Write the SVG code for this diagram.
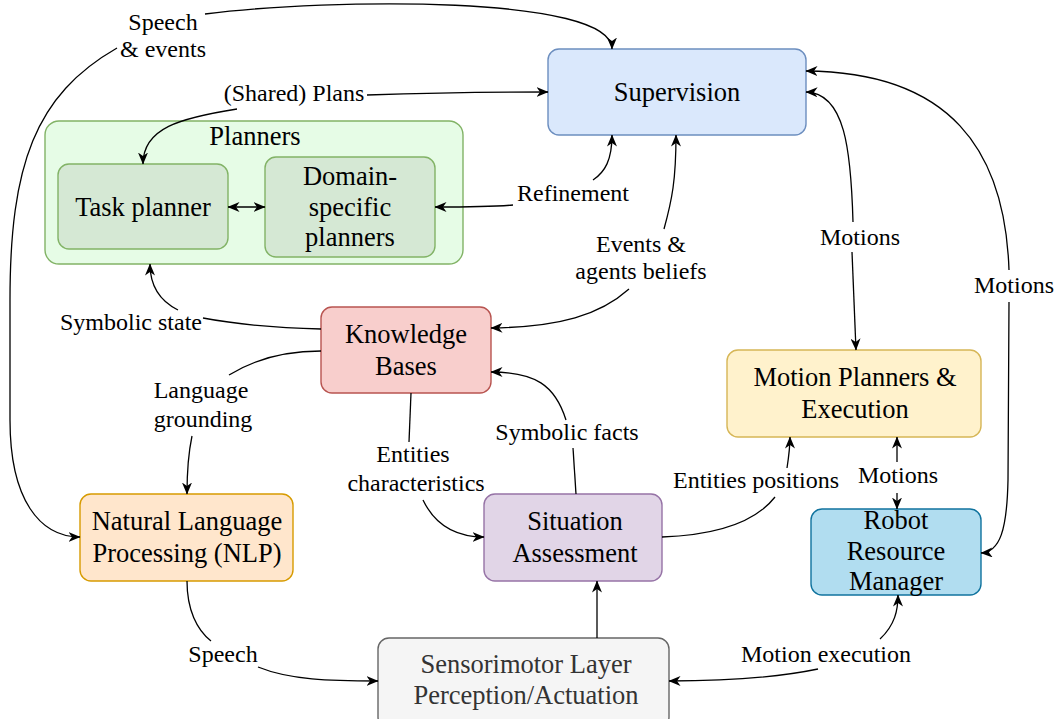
<svg xmlns="http://www.w3.org/2000/svg" width="1059" height="719" viewBox="0 0 1059 719">
<defs>
<marker id="arr" viewBox="0 0 12 10" refX="11.5" refY="5" markerWidth="12" markerHeight="10" markerUnits="userSpaceOnUse" orient="auto-start-reverse">
<path d="M0,0 L12,5 L0,10 L3.5,5 Z" fill="#000"/>
</marker>
<style>
.n{font-family:"Liberation Serif","Times New Roman",serif;font-size:26.5px;fill:#000;text-anchor:middle}
.l{font-family:"Liberation Serif","Times New Roman",serif;font-size:24px;fill:#000;text-anchor:middle}
.c{fill:none;stroke:#000;stroke-width:1.3}
.e{marker-end:url(#arr)}
.b{marker-start:url(#arr);marker-end:url(#arr)}
rect{stroke-width:1.4}
</style>
</defs>
<rect width="1059" height="719" fill="#fff"/>

<g id="planners">
<rect x="45" y="121" width="418" height="143" rx="14" fill="#e6fce6" stroke="#82b366"/>
<text class="n" x="255" y="145">Planners</text>
</g>
<g id="task-planner">
<rect x="58" y="164" width="170" height="85" rx="11" fill="#d5e8d4" stroke="#82b366"/>
<text class="n" x="143" y="216">Task planner</text>
</g>
<g id="domain-planners">
<rect x="265" y="157" width="170" height="100" rx="11" fill="#d5e8d4" stroke="#82b366"/>
<text class="n" x="350" y="185">Domain-</text>
<text class="n" x="350" y="216">specific</text>
<text class="n" x="350" y="246">planners</text>
</g>
<g id="supervision">
<rect x="548" y="49" width="258" height="86" rx="11" fill="#dae8fc" stroke="#6c8ebf"/>
<text class="n" x="677" y="101">Supervision</text>
</g>
<g id="knowledge-bases">
<rect x="321" y="307" width="170" height="86" rx="11" fill="#f8cecc" stroke="#b85450"/>
<text class="n" x="406" y="343">Knowledge</text>
<text class="n" x="406" y="375">Bases</text>
</g>
<g id="nlp">
<rect x="80" y="494" width="213" height="87" rx="11" fill="#ffe6cc" stroke="#d79b00"/>
<text class="n" x="187" y="530">Natural Language</text>
<text class="n" x="187" y="562">Processing (NLP)</text>
</g>
<g id="situation-assessment">
<rect x="484" y="494" width="178" height="87" rx="11" fill="#e1d5e7" stroke="#9673a6"/>
<text class="n" x="575" y="530">Situation</text>
<text class="n" x="575" y="562">Assessment</text>
</g>
<g id="sensorimotor">
<rect x="378" y="638" width="291" height="90" rx="11" fill="#f5f5f5" stroke="#666666"/>
<text class="n" x="526" y="673" style="fill:#333333">Sensorimotor Layer</text>
<text class="n" x="526" y="704" style="fill:#333333">Perception/Actuation</text>
</g>
<g id="motion-planners">
<rect x="727" y="350" width="254" height="87" rx="11" fill="#fff2cc" stroke="#d6b656"/>
<text class="n" x="855" y="386">Motion Planners &amp;</text>
<text class="n" x="855" y="418">Execution</text>
</g>
<g id="robot-resource-manager">
<rect x="811" y="509" width="170" height="86" rx="11" fill="#b1ddf0" stroke="#10739e"/>
<text class="n" x="896" y="529">Robot</text>
<text class="n" x="896" y="560">Resource</text>
<text class="n" x="896" y="590">Manager</text>
</g>

<g id="connectors">
<path class="c e" d="M117 48 C35 95 10 165 10 300 L10 420 C10 500 40 537 80 537"/>
<path class="c e" d="M205 14 C330 -2 612 -5 612 49"/>
<path class="c e" d="M367 95 C430 93 500 92 548 92"/>
<path class="c e" d="M237 109 C180 118 143 128 143 164"/>
<path class="c b" d="M228 207 L265 207"/>
<path class="c e" d="M593 180 C605 172 612 160 612 135"/>
<path class="c e" d="M513 205 C490 207 470 207 435 207"/>
<path class="c e" d="M664 229 C672 200 676 180 676 135"/>
<path class="c e" d="M629 289 C600 315 560 327 491 328"/>
<path class="c" d="M321 329 C280 328 240 325 203 318"/>
<path class="c e" d="M178 310 C158 300 150 285 150 264"/>
<path class="c e" d="M853 222 C851 150 845 93 806 92"/>
<path class="c e" d="M852 252 L856 350"/>
<path class="c e" d="M1009 270 C1005 150 950 72 806 71"/>
<path class="c e" d="M1009 302 L1008 480 C1007 530 1000 552 981 553"/>
<path class="c e" d="M897 462 L897 437"/>
<path class="c e" d="M897 493 L897 509"/>
<path class="c" d="M321 351 C280 351 250 362 229 375"/>
<path class="c e" d="M192 436 C188 455 187 470 187 494"/>
<path class="c" d="M411 393 L409 442"/>
<path class="c e" d="M423 500 C435 525 455 537 484 537"/>
<path class="c" d="M576 494 L573 448"/>
<path class="c e" d="M566 420 C555 385 535 372 491 372"/>
<path class="c" d="M662 537 C720 535 757 520 775 497"/>
<path class="c e" d="M787 468 C789 455 790 448 790 437"/>
<path class="c" d="M187 581 C187 610 197 630 211 641"/>
<path class="c e" d="M258 667 C290 680 330 681 378 681"/>
<path class="c e" d="M597 638 L597 581"/>
<path class="c e" d="M880 639 C895 625 898 610 898 595"/>
<path class="c e" d="M818 669 C770 679 720 681 669 681"/>
</g>

<g id="labels">
<text class="l" x="163" y="30">Speech</text>
<text class="l" x="163" y="57">&amp; events</text>
<text class="l" x="294" y="101">(Shared) Plans</text>
<text class="l" x="573" y="201">Refinement</text>
<text class="l" x="641" y="252">Events &amp;</text>
<text class="l" x="641" y="279">agents beliefs</text>
<text class="l" x="860" y="245">Motions</text>
<text class="l" x="1014" y="293">Motions</text>
<text class="l" x="131" y="330">Symbolic state</text>
<text class="l" x="201" y="398">Language</text>
<text class="l" x="203" y="427">grounding</text>
<text class="l" x="413" y="462">Entities</text>
<text class="l" x="416" y="491">characteristics</text>
<text class="l" x="567" y="440">Symbolic facts</text>
<text class="l" x="756" y="488">Entities positions</text>
<text class="l" x="898" y="483">Motions</text>
<text class="l" x="223" y="662">Speech</text>
<text class="l" x="826" y="662">Motion execution</text>
</g>
</svg>
